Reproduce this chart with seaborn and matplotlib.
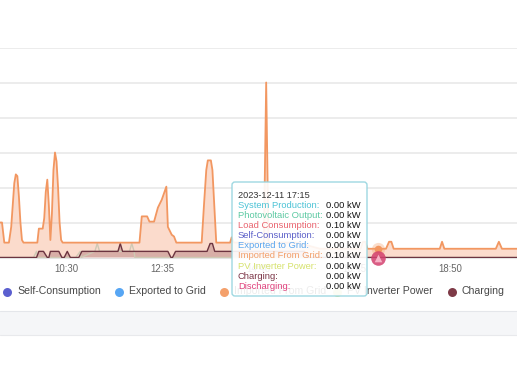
import numpy as np
import pandas as pd
import matplotlib
matplotlib.use("Agg")
import matplotlib.pyplot as plt
import seaborn as sns
from matplotlib.patches import FancyBboxPatch, Rectangle

# ---------------- data ----------------
imp_times = ["09:00", "09:06", "09:09", "09:15", "09:18", "09:20", "09:22", "09:24",
             "09:26", "09:28", "09:30", "09:32", "09:34",
             "09:52", "09:54", "09:59", "10:01", "10:03", "10:05", "10:07", "10:09",
             "10:11", "10:13", "10:15", "10:17", "10:19", "10:21", "10:23", "10:25",
             "12:05", "12:08", "12:15", "12:18", "12:24", "12:29", "12:34", "12:40",
             "12:42", "12:47", "12:50", "12:53",
             "13:26", "13:29", "13:32", "13:34", "13:38", "13:40", "13:43", "13:45",
             "14:03", "14:05", "14:08", "14:47", "14:50", "14:53", "15:30", "16:00",
             "16:53", "16:56", "16:59", "17:02", "17:15", "17:26", "17:30", "17:33",
             "17:36", "18:36", "18:39", "18:42", "19:49", "19:53", "19:57", "20:20"]
imp_kw = [0.40, 0.40, 0.17, 0.17, 0.35, 0.60, 0.85, 0.95,
          0.93, 0.70, 0.40, 0.20, 0.17,
          0.17, 0.33, 0.33, 0.45, 0.75, 0.89, 0.60, 0.20,
          0.50, 1.00, 1.20, 1.10, 0.80, 0.40, 0.20, 0.17,
          0.17, 0.47, 0.47, 0.41, 0.41, 0.57, 0.66, 0.81,
          0.35, 0.26, 0.24, 0.17,
          0.17, 0.60, 1.00, 1.11, 1.11, 1.00, 0.50, 0.17,
          0.17, 0.23, 0.17, 0.17, 2.00, 0.17, 0.17, 0.10,
          0.10, 0.18, 0.18, 0.10, 0.10, 0.10, 0.18, 0.18,
          0.10, 0.10, 0.18, 0.10, 0.10, 0.18, 0.10, 0.10]

chg_times = ["09:00", "09:51", "09:54", "10:00", "10:05", "10:07", "10:09", "10:20",
             "10:24", "10:27", "10:31", "10:35", "10:46", "10:50", "11:37", "11:40",
             "11:43", "12:42", "12:46", "12:48", "12:52", "13:33", "13:37", "13:40",
             "13:43", "15:40", "15:44", "20:20"]
chg_kw = [0.0, 0.0, 0.07, 0.07, 0.0, 0.0, 0.07, 0.07,
          0.0, 0.0, 0.07, 0.0, 0.0, 0.07, 0.07, 0.16,
          0.07, 0.07, 0.0, 0.0, 0.07, 0.07, 0.16, 0.16,
          0.07, 0.07, 0.0, 0.0]

pv_times = ["09:00", "09:47", "09:51", "09:52", "10:42", "10:48", "10:49", "11:07",
            "11:10", "11:13", "11:52", "11:55", "11:58", "11:59", "20:20"]
pv_kw = [0.0, 0.0, 0.07, 0.0, 0.0, 0.07, 0.0, 0.07,
         0.16, 0.07, 0.07, 0.16, 0.07, 0.0, 0.0]

x_ticks = ["10:30", "12:35", "14:40", "16:45", "18:50"]
y_grid = [0.4, 0.8, 1.2, 1.6, 2.0, 2.4]

hover_time = "17:15"
hover_imported = 0.10
tooltip_header = "2023-12-11 17:15"
tooltip_labels = ["System Production:", "Photovoltaic Output:", "Load Consumption:",
                  "Self-Consumption:", "Exported to Grid:", "Imported From Grid:",
                  "PV Inverter Power:", "Charging:", "Discharging:"]
tooltip_values = ["0.00 kW", "0.00 kW", "0.10 kW", "0.00 kW", "0.00 kW", "0.10 kW",
                  "0.00 kW", "0.00 kW", "0.00 kW"]
tooltip_colors = ["#4cc3d6", "#5cc9a2", "#e9636e", "#5a5ec8", "#5aa6ef", "#f2a06b",
                  "#d6e26c", "#7a3345", "#e0417c"]

legend_labels = ["Self-Consumption", "Exported to Grid", "Imported From Grid",
                 "PV Inverter Power", "Charging"]
legend_colors = ["#5b5fcf", "#57a6f4", "#f4a06b", "#dfe79b", "#7e3a47"]


def tm(s):
    h, m = s.split(":")
    return int(h) * 60 + int(m)


imp = pd.DataFrame({"t": [tm(s) for s in imp_times], "kW": imp_kw})
chg = pd.DataFrame({"t": [tm(s) for s in chg_times], "kW": chg_kw})
pv = pd.DataFrame({"t": [tm(s) for s in pv_times], "kW": pv_kw})

# ---------------- figure ----------------
sns.set_theme(style="white")
plt.rcParams["font.family"] = ["Liberation Sans", "DejaVu Sans"]

W, H = 517, 366
fig = plt.figure(figsize=(W / 100, H / 100), dpi=100)
fig.patch.set_facecolor("white")

ax_bottom, ax_top = 257.5, 47.5
ax = fig.add_axes([0, (H - ax_bottom) / H, 1, (ax_bottom - ax_top) / H])
ax.set_xlim(543.4, 1216.6)
ax.set_ylim(0, 2.4)

ax.fill_between(imp["t"], imp["kW"], color="#f6a27a", alpha=0.38, lw=0, zorder=1)
ax.fill_between(chg["t"], chg["kW"], color="#7e3a47", alpha=0.28, lw=0, zorder=2)
sns.lineplot(data=pv, x="t", y="kW", ax=ax, color="#cfc9b4", lw=1.0,
             estimator=None, sort=False, zorder=3)
sns.lineplot(data=chg, x="t", y="kW", ax=ax, color="#6c3440", lw=1.0,
             estimator=None, sort=False, zorder=4)
sns.lineplot(data=imp, x="t", y="kW", ax=ax, color="#f29761", lw=1.3,
             estimator=None, sort=False, zorder=5)

ht = tm(hover_time)
ax.scatter([ht], [hover_imported], s=90, color="#f4a06b", alpha=0.35, lw=0,
           zorder=6, clip_on=False)
ax.scatter([ht], [hover_imported], s=30, color="#f29761", lw=0, zorder=7, clip_on=False)
ax.scatter([ht], [0.0], s=110, color="#d3406e", alpha=0.85, lw=0, zorder=7, clip_on=False)
ax.scatter([ht], [0.0], s=30, marker="^", color="#f7b2c6", lw=0, zorder=8, clip_on=False)

ax.set_yticks(y_grid)
ax.yaxis.grid(True, color="#ebebeb", lw=1.3)
ax.xaxis.grid(False)
ax.set_xticks([tm(s) for s in x_ticks])
ax.set_xticklabels(x_ticks)
ax.tick_params(axis="x", length=0, pad=4.5, labelsize=6.9, labelcolor="#666666")
ax.tick_params(axis="y", left=False, labelleft=False)
ax.set_xlabel("")
ax.set_ylabel("")
for s in ["top", "left", "right"]:
    ax.spines[s].set_visible(False)
ax.spines["bottom"].set_color("#e3e3e3")
ax.spines["bottom"].set_linewidth(0.8)
ax.set_zorder(2)

# ---------------- overlay in pixel coordinates ----------------
ov = fig.add_axes([0, 0, 1, 1])
ov.set_xlim(0, W)
ov.set_ylim(H, 0)
ov.axis("off")
ov.set_zorder(5)
ov.patch.set_alpha(0)

ov.add_patch(Rectangle((0, 311), W, 24, fc="#f5f6f8", ec="none", zorder=1))
ov.plot([0, W], [311, 311], color="#e4e6ea", lw=0.8, zorder=1)
ov.plot([0, W], [335, 335], color="#e8e9ec", lw=0.8, zorder=1)

leg_dot_x = [7, 119, 224, 337, 452]
for lab, col, dx in zip(legend_labels, legend_colors, leg_dot_x):
    ov.scatter([dx], [291.5], s=42, color=col, lw=0, zorder=2)
    ov.text(dx + 10, 291.5, lab, color="#484848", fontsize=7.6, va="center",
            ha="left", zorder=2)

box = FancyBboxPatch((232, 182), 135, 114,
                     boxstyle="round,pad=0,rounding_size=3",
                     fc="white", ec="#94d4de", lw=1.0, alpha=0.9, zorder=5)
ov.add_patch(box)
ov.text(238, 195, tooltip_header, color="#333333", fontsize=6.6, va="center",
        ha="left", zorder=6)
for i, (lab, val, col) in enumerate(zip(tooltip_labels, tooltip_values, tooltip_colors)):
    y = 205.5 + i * 10.1
    ov.text(238, y, lab, color=col, fontsize=6.75, va="center", ha="left", zorder=6)
    ov.text(361, y, val, color="#111111", fontsize=6.75, va="center", ha="right", zorder=6)

fig.savefig("out.png", dpi=100)
